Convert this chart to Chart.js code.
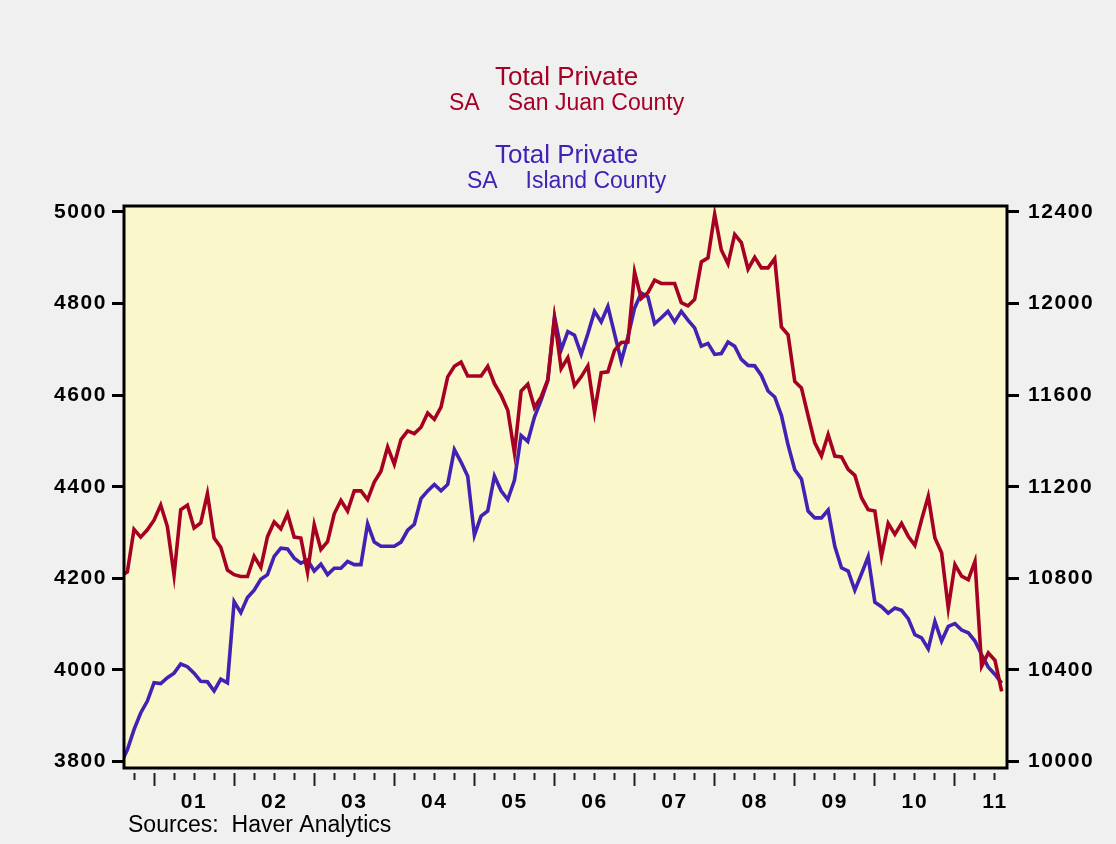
<!DOCTYPE html>
<html>
<head>
<meta charset="utf-8">
<script src="https://cdn.jsdelivr.net/npm/chart.js@4.4.1/dist/chart.umd.min.js"></script>
<style>
html,body{margin:0;padding:0;background:#f0f0f0;}
canvas{display:block;}
</style>
</head>
<body>
<canvas id="c" width="1116" height="844"></canvas>
<script>
// Monthly data, Aug 2000 .. Aug 2011 (month index counted from Jan 2000 = 0)
const firstMonthIndex = 7;

// Total Private, SA, San Juan County (left axis)
const sanJuan = [
  4205,4214,4307,4290,4306,4327,4360,4313,4207,4350,
  4360,4310,4321,4385,4288,4268,4218,4208,4204,4204,
  4248,4224,4291,4323,4308,4341,4290,4288,4213,4317,
  4263,4280,4341,4370,4347,4391,4391,4372,4410,4434,
  4487,4449,4503,4522,4516,4530,4561,4547,4574,4640,
  4663,4672,4642,4642,4642,4663,4625,4600,4567,4474,
  4609,4624,4573,4596,4634,4767,4658,4682,4621,4640,
  4664,4563,4649,4651,4698,4715,4716,4869,4811,4824,
  4851,4844,4844,4844,4802,4795,4809,4891,4900,4995,
  4917,4887,4951,4933,4875,4901,4878,4878,4898,4749,
  4732,4630,4616,4555,4496,4467,4514,4467,4465,4438,
  4425,4376,4350,4347,4248,4320,4296,4320,4292,4272,
  4328,4379,4288,4256,4135,4230,4205,4197,4237,4008,
  4037,4021,3953
];

// Total Private, SA, Island County (right axis)
const island = [
  9990,10051,10139,10212,10264,10344,10340,10366,10386,10426,
  10414,10386,10350,10348,10308,10360,10344,10698,10650,10716,
  10748,10796,10816,10896,10932,10928,10888,10866,10880,10832,
  10862,10816,10844,10844,10874,10860,10860,11038,10958,10940,
  10940,10940,10958,11010,11036,11148,11182,11210,11182,11210,
  11362,11308,11246,10988,11072,11094,11246,11182,11144,11228,
  11424,11398,11504,11578,11664,11944,11798,11878,11862,11778,
  11868,11966,11920,11988,11868,11748,11854,11980,12046,12030,
  11912,11938,11966,11920,11966,11928,11894,11814,11826,11778,
  11782,11832,11814,11756,11730,11728,11686,11618,11592,11512,
  11382,11274,11234,11094,11064,11064,11098,10940,10846,10832,
  10748,10820,10894,10696,10676,10648,10670,10660,10624,10554,
  10540,10492,10612,10526,10590,10602,10574,10562,10526,10466,
  10412,10380,10342
];

const yearLabels = ['01','02','03','04','05','06','07','08','09','10','11'];
const leftTicks = [3800,4000,4200,4400,4600,4800,5000];
const rightTicks = [10000,10400,10800,11200,11600,12000,12400];

const RED = 'rgb(166,0,36)';
const BLUE = 'rgb(66,34,180)';

function toPoints(arr){ return arr.map((v,i)=>({x:firstMonthIndex+i, y:v})); }

// quarter tick positions (month index), Oct 2000 .. Jul 2011
const quarterTicks = [];
for (let m = 9; m <= 138; m += 3) quarterTicks.push(m);

const tickFont = {family:'"Liberation Sans", Arial, sans-serif', size:21, weight:'bold'};

const decor = {
  id:'decor',
  beforeDraw(chart){
    const {ctx, chartArea:a} = chart;
    ctx.save();
    ctx.fillStyle = '#f0f0f0';
    ctx.fillRect(0,0,chart.width,chart.height);
    ctx.fillStyle = 'rgb(250,248,202)';
    ctx.fillRect(a.left,a.top,a.right-a.left,a.bottom-a.top);
    ctx.restore();
    // slightly wider axis-label lettering, as in the original
    if ('letterSpacing' in ctx) ctx.letterSpacing = '1.6px';
  },
  beforeDatasetsDraw(chart){
    const ctx = chart.ctx;
    if ('letterSpacing' in ctx) ctx.letterSpacing = '0px';
  },
  afterDatasetsDraw(chart){
    const {ctx, chartArea:a} = chart;
    ctx.save();
    ctx.strokeStyle = '#000';
    ctx.lineWidth = 3;
    ctx.strokeRect(a.left,a.top,a.right-a.left,a.bottom-a.top);
    ctx.restore();
  },
  afterDraw(chart){
    const ctx = chart.ctx;
    if ('letterSpacing' in ctx) ctx.letterSpacing = '0px';
    const cx = 566.6;
    ctx.save();
    ctx.textBaseline = 'alphabetic';
    function titleBlock(color, y1, y2, name){
      ctx.fillStyle = color;
      ctx.font = '26px "Liberation Sans", Arial, sans-serif';
      ctx.textAlign = 'center';
      ctx.fillText('Total Private', cx, y1);
      ctx.font = '23px "Liberation Sans", Arial, sans-serif';
      ctx.textAlign = 'left';
      const wSA = ctx.measureText('SA').width;
      const wN = ctx.measureText(name).width;
      const gap = 28;
      const x0 = cx - (wSA + gap + wN)/2;
      ctx.fillText('SA', x0, y2);
      ctx.fillText(name, x0 + wSA + gap, y2);
    }
    titleBlock(RED, 85, 110, 'San Juan County');
    titleBlock(BLUE, 163, 188, 'Island County');
    ctx.fillStyle = '#000';
    ctx.font = '23px "Liberation Sans", Arial, sans-serif';
    ctx.textAlign = 'left';
    ctx.fillText('Sources:  Haver Analytics', 128, 832);
    ctx.restore();
  }
};

new Chart(document.getElementById('c'), {
  type:'line',
  data:{
    datasets:[
      {label:'San Juan County', data:toPoints(sanJuan), yAxisID:'y',
       borderColor:RED, borderWidth:3.6, pointRadius:0, tension:0, fill:false},
      {label:'Island County', data:toPoints(island), yAxisID:'y2',
       borderColor:BLUE, borderWidth:3.6, pointRadius:0, tension:0, fill:false}
    ]
  },
  options:{
    responsive:false,
    animation:false,
    devicePixelRatio:1,
    layout:{padding:{top:206,left:0,right:0,bottom:0}},
    plugins:{legend:{display:false}, tooltip:{enabled:false}, title:{display:false}},
    scales:{
      x:{
        type:'linear', min:7.5, max:139.8,
        afterBuildTicks:s=>{ s.ticks = quarterTicks.map(v=>({value:v})); },
        afterFit:s=>{ s.height = 76; },
        border:{display:false},
        grid:{display:true, drawOnChartArea:false, drawTicks:true, tickLength:18,
              tickWidth:2, tickColor:'#222',
              tickBorderDash: c => (c.tick && c.tick.value % 12 === 0) ? [0,5,13,100] : [0,5,7,100]},
        ticks:{autoSkip:false, maxRotation:0, minRotation:0, padding:4, color:'#000', font:tickFont,
               callback:v=>{ const k=(v-18)/12; return (Number.isInteger(k) && k>=0 && k<yearLabels.length) ? yearLabels[k] : ''; }}
      },
      y:{
        position:'left', min:3785.8, max:5013.1,
        afterBuildTicks:s=>{ s.ticks = leftTicks.map(v=>({value:v})); },
        afterFit:s=>{ s.width = 124; },
        border:{display:false},
        grid:{display:true, drawOnChartArea:false, drawTicks:true, tickLength:12, tickWidth:3, tickColor:'#000'},
        ticks:{padding:5, color:'#000', font:tickFont, callback:v=>String(v)}
      },
      y2:{
        position:'right', min:9971.6, max:12426.2,
        afterBuildTicks:s=>{ s.ticks = rightTicks.map(v=>({value:v})); },
        afterFit:s=>{ s.width = 109; },
        border:{display:false},
        grid:{display:true, drawOnChartArea:false, drawTicks:true, tickLength:12, tickWidth:3, tickColor:'#000'},
        ticks:{padding:9, color:'#000', font:tickFont, callback:v=>String(v)}
      }
    }
  },
  plugins:[decor]
});
</script>
</body>
</html>
